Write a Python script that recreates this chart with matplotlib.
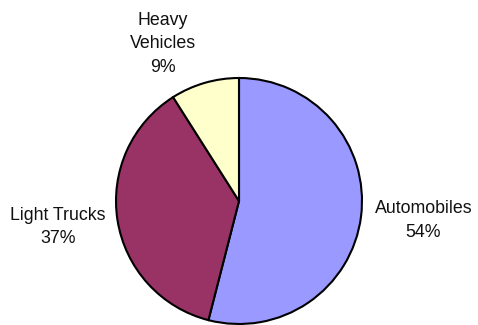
import matplotlib.pyplot as plt

names = ["Automobiles", "Light Trucks", "Heavy\nVehicles"]
shares = [54, 37, 9]
colors = ["#9999FF", "#993366", "#FFFFCC"]

plt.rcParams['font.family'] = ['Liberation Sans', 'DejaVu Sans']

fig = plt.figure(figsize=(4.78, 3.25), dpi=100)
# square axes: pie centre near (239, 201) px, radius ~123 px
ax = fig.add_axes([116 / 478, 1 / 325, 246 / 478, 246 / 325])

labels = [f"{n}\n{s}%" for n, s in zip(names, shares)]
wedges, texts = ax.pie(shares, labels=labels, colors=colors, startangle=90,
                       counterclock=False, labeldistance=1.5,
                       wedgeprops=dict(edgecolor='black', linewidth=1.5),
                       textprops=dict(fontsize=12.8, color='#111111', linespacing=1.5))
for t in texts:
    t.set_ha('center')
    t.set_va('center')
    t.set_clip_on(False)
texts[0].set_position((1.5, -0.16))
texts[1].set_position((-1.47, -0.21))
texts[2].set_position((-0.62, 1.28))

ax.set_xlim(-1, 1)
ax.set_ylim(-1, 1)
ax.set_aspect('equal')

fig.savefig("out.png", dpi=100)
